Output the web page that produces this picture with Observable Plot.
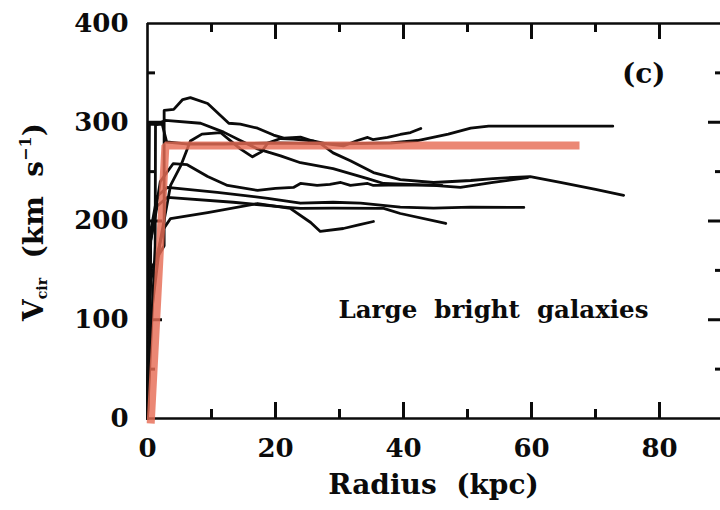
<!DOCTYPE html>
<html><head><meta charset="utf-8">
<script src="https://cdn.jsdelivr.net/npm/d3@7"></script>
<script src="https://cdn.jsdelivr.net/npm/@observablehq/plot@0.6"></script>
<style>
html,body{margin:0;padding:0;background:#fff;overflow:hidden}
svg{display:block}
</style></head><body><div id="chart"></div>
<script>
// Rotation curves: [radius kpc, Vcir km/s]
const galaxyA = [[0,0],[0.4,150],[2.6,175],[2.6,312],[4.1,313],[5.5,323],[6.7,325],[9.4,319],[12.7,299],[14.5,298],[17.2,294],[19.7,287],[21.3,284],[23.9,285],[27,278.5],[29,269],[31.7,261],[35.3,249],[39.5,242],[44.7,239],[50.5,241],[54,243],[59.8,245],[64.5,239],[70,232],[74.4,226]];
const galaxyB = [[0,0],[1.2,175],[1.25,297],[2.8,302],[8.3,299],[11.9,290],[14.5,281.5],[17.2,273],[20.8,266],[23.9,259],[29,253],[34.4,243],[36.9,238],[44.7,236],[48.9,234],[54,239],[59.4,244]];
const galaxyC = [[0,0],[0.5,100],[2,180],[3.6,236],[5.2,256],[6.7,281],[8.5,288],[11.4,289.6],[14.5,273],[16.4,265],[17.8,270],[18.8,279],[20.8,283.5],[22.8,283],[26,281],[28,278],[30.6,276],[32.8,281.5],[34.4,284.6],[35.2,282.5],[37.5,284.6],[39.5,287.6],[41.1,289.6],[42.7,293.7]];
const galaxyD = [[0,0],[0.3,298],[2.3,298],[3,280],[6,278],[12,278],[20,279],[30,278],[38,279],[42.2,281.5],[47,288],[50.5,294],[53.3,296],[62,296],[72.7,296]];
const galaxyE = [[0,0],[0.5,180],[2,240],[4,258],[6.2,257],[9.4,245],[12.5,236],[17.2,231],[20,233],[22.8,234],[23.9,238],[26.5,236],[28.5,237],[30.2,239],[31.7,236],[34.4,238],[35.3,236],[40,236.5],[46,236]];
const galaxyF = [[0,0],[0.5,190],[1.5,225],[3.1,234],[10.9,229],[18.8,223],[23.9,218],[29,219],[33.3,218],[39.5,214],[44.7,213],[50.5,214],[58.8,213.7]];
const galaxyG = [[0,0],[0.5,180],[1.5,215],[3.1,224],[13.4,219],[21.9,213.7],[23.9,212.7],[29,213],[36.9,212.7],[39.5,207.6],[46.6,197.5]];
const galaxyH = [[0,0],[0.5,140],[2.5,192],[3.6,202.5],[9.4,208.6],[17.2,217.7],[22.3,212.7],[25.5,198.5],[27,189.4],[30.6,192.4],[33,196],[35.3,199.5]];
// Model (thick red) curve
const model = [[0.5,-5],[2.8,276.5],[67.5,276.5]];

// Tick values
const xMajor = [20,40,60,80];
const xMinor = [10,30,50,70];
const xLabels = [0,20,40,60,80];
const yMajor = [100,200,300];
const yMinor = [50,150,250,350];
const yLabels = [0,100,200,300,400];

const galaxies = {A: galaxyA, B: galaxyB, C: galaxyC, D: galaxyD, E: galaxyE, F: galaxyF, G: galaxyG, H: galaxyH};
const rows = Object.entries(galaxies).flatMap(([id, pts]) => pts.map(([r, v]) => ({id, r, v})));
const modelRows = model.map(([r, v]) => ({r, v}));

const ink = "#0b0b0b";
const tickW = 3;
const W = 720, H = 510, mL = 147, mR = -3, mT = 23, mB = 92;
const frameW = W - mL - mR, frameH = H - mT - mB;
// inward ticks as short rules (inset from the opposite side of the frame)
const xTicks = (values, side, len) => Plot.ruleX(values, {x: d => d, stroke: ink, strokeWidth: tickW,
  ...(side === "bottom" ? {insetTop: frameH - len} : {insetBottom: frameH - len})});
const yTicks = (values, side, len) => Plot.ruleY(values, {y: d => d, stroke: ink, strokeWidth: tickW,
  ...(side === "left" ? {insetRight: frameW - len} : {insetLeft: frameW - len})});

const svg = Plot.plot({
  width: W,
  height: H,
  marginLeft: mL,
  marginRight: mR,
  marginTop: mT,
  marginBottom: mB,
  x: {domain: [0, 90]},
  y: {domain: [0, 400]},
  style: {fontFamily: "'DejaVu Serif', serif", fontWeight: "bold", fontSize: "26px", color: ink, background: "#fff"},
  marks: [
    // tick marks pointing inward on all four sides
    xTicks(xMajor, "bottom", 16), xTicks(xMinor, "bottom", 9),
    xTicks(xMajor, "top", 16), xTicks(xMinor, "top", 9),
    yTicks(yMajor, "left", 15), yTicks(yMinor, "left", 8),
    yTicks(yMajor, "right", 15), yTicks(yMinor, "right", 8),
    // tick labels
    Plot.axisX({ticks: xLabels, anchor: "bottom", tickSize: 0, tickPadding: 20, label: null, fontSize: 26, fill: ink}),
    Plot.axisY({ticks: yLabels, anchor: "left", tickSize: 0, tickPadding: 19, label: null, fontSize: 26, fill: ink}),
    // frame
    Plot.ruleY([0, 400], {stroke: ink, strokeWidth: 2.6}),
    Plot.ruleX([0], {stroke: ink, strokeWidth: 2.6}),
    // rotation curves
    Plot.line(rows, {x: "r", y: "v", z: "id", stroke: ink, strokeWidth: 2.8, strokeLinejoin: "round", strokeLinecap: "round"}),
    // model
    Plot.line(modelRows, {x: "r", y: "v", stroke: "#e76d56", strokeOpacity: 0.82, strokeWidth: 8, strokeLinecap: "butt", strokeLinejoin: "miter"}),
    // annotations
    Plot.text(["(c)"], {frameAnchor: "top-right", dx: -58, dy: 40, textAnchor: "end", fontSize: 28, fill: ink}),
    Plot.text(["Large  bright  galaxies"], {frameAnchor: "top-left", dx: 191, dy: 277, textAnchor: "start", fontSize: 24.5, fill: ink}),
    Plot.text(["Radius  (kpc)"], {frameAnchor: "bottom", dx: -2, dy: 75, textAnchor: "middle", fontSize: 28, fill: ink})
  ]
});

// y-axis title with subscript / superscript
const t = d3.select(svg).append("text")
  .attr("transform", "translate(43,222) rotate(-90)")
  .attr("text-anchor", "middle")
  .attr("fill", ink)
  .style("font-family", "'DejaVu Serif', serif")
  .style("font-weight", "bold")
  .style("font-size", "28px");
t.append("tspan").text("V");
t.append("tspan").attr("font-size", "14px").attr("dy", 4).text("cir");
t.append("tspan").attr("dy", -4).text("  (km  s");
t.append("tspan").attr("font-size", "16px").attr("dy", -12).text("−1");
t.append("tspan").attr("dy", 12).text(")");

document.getElementById("chart").append(svg);
</script>
</body></html>
